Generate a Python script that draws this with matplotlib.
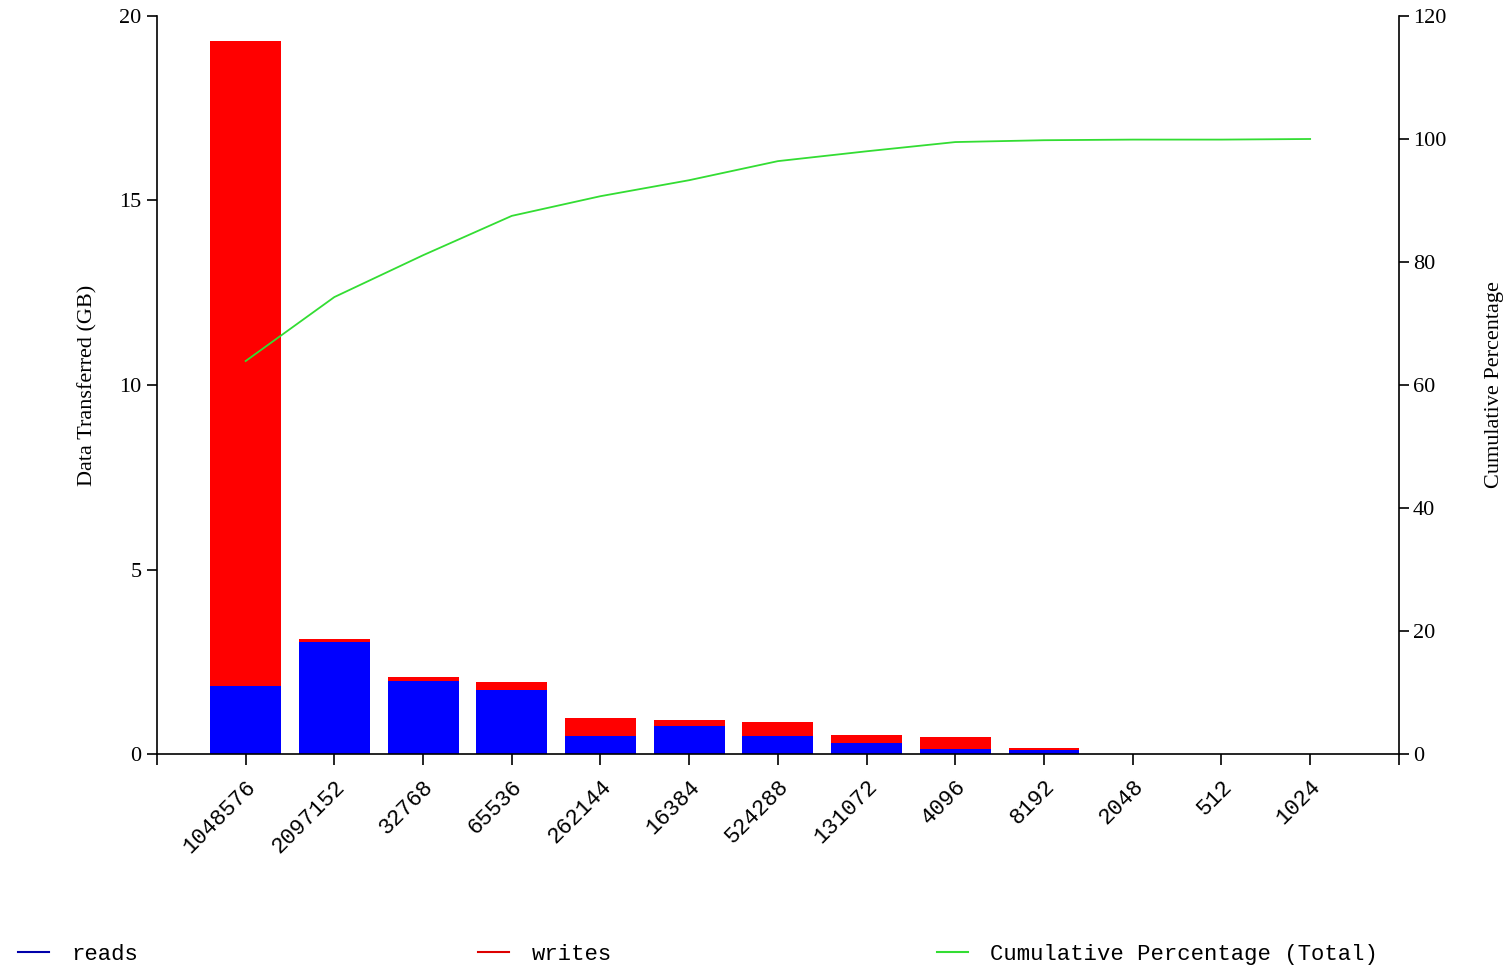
import matplotlib.pyplot as plt
from matplotlib.lines import Line2D

# request sizes (bytes) and data moved per size, in GB
sizes = ["1048576", "2097152", "32768", "65536", "262144", "16384",
         "524288", "131072", "4096", "8192", "2048", "512", "1024"]
reads = [1.84, 3.04, 1.98, 1.73, 0.49, 0.76, 0.49, 0.30, 0.14, 0.10, 0.0, 0.0, 0.0]
writes = [17.48, 0.08, 0.11, 0.22, 0.49, 0.16, 0.38, 0.21, 0.32, 0.06, 0.0, 0.0, 0.0]
cumulative = [63.9, 74.3, 81.1, 87.5, 90.7, 93.3, 96.4, 98.0, 99.5, 99.8, 99.9, 99.9, 100.0]

serif = "Liberation Serif"
mono = "Liberation Mono"

fig = plt.figure(figsize=(15.09, 9.68), dpi=100)
ax = fig.add_axes([0.104, 0.221, 0.823, 0.7625])
x = list(range(len(sizes)))

ax.bar(x, reads, width=0.8, color="#0000ff", zorder=2)
ax.bar(x, writes, width=0.8, bottom=reads, color="#ff0000", zorder=2)

ax.set_xlim(-1, len(sizes))
ax.set_ylim(0, 20)
ax.set_yticks([0, 5, 10, 15, 20])
ax.set_xticks(range(-1, len(sizes) + 1))
ax.set_xticklabels([""] + sizes + [""], rotation=45, ha="right",
                   rotation_mode="anchor", fontfamily=mono, fontsize=16)
ax.tick_params(axis="x", length=8, width=1.2, pad=8)
ax.tick_params(axis="y", length=7, width=1.2, labelsize=16, pad=4)
for lab in ax.get_yticklabels():
    lab.set_fontfamily(serif)
ax.set_ylabel("Data Transferred (GB)", fontfamily=serif, fontsize=16, labelpad=16)
ax.spines["top"].set_visible(False)
ax.spines["right"].set_visible(False)
for s in ("left", "bottom"):
    ax.spines[s].set_linewidth(1.2)

ax2 = ax.twinx()
ax2.plot(x, cumulative, color="#33dd33", lw=1.3, zorder=3)
ax2.set_ylim(0, 120)
ax2.set_yticks(range(0, 121, 20))
ax2.tick_params(axis="y", length=7, width=1.2, labelsize=16, pad=3)
for lab in ax2.get_yticklabels():
    lab.set_fontfamily(serif)
ax2.set_ylabel("Cumulative Percentage", fontfamily=serif, fontsize=16, labelpad=28)
ax2.spines["top"].set_visible(False)
ax2.spines["left"].set_visible(False)
ax2.spines["bottom"].set_visible(False)
ax2.spines["right"].set_linewidth(1.2)

# legend entries spread along the bottom
entries = [("reads", "#0000aa", 0.006), ("writes", "#dd0000", 0.311),
           ("Cumulative Percentage (Total)", "#33dd33", 0.615)]
for label, col, xpos in entries:
    h = Line2D([], [], color=col, lw=1.5)
    fig.legend([h], [label], loc="center left", bbox_to_anchor=(xpos, 0.014),
               frameon=False, prop={"family": mono, "size": 16},
               handlelength=1.4, handletextpad=1.0, borderaxespad=0)

fig.savefig("out.png", dpi=100, facecolor="white")
